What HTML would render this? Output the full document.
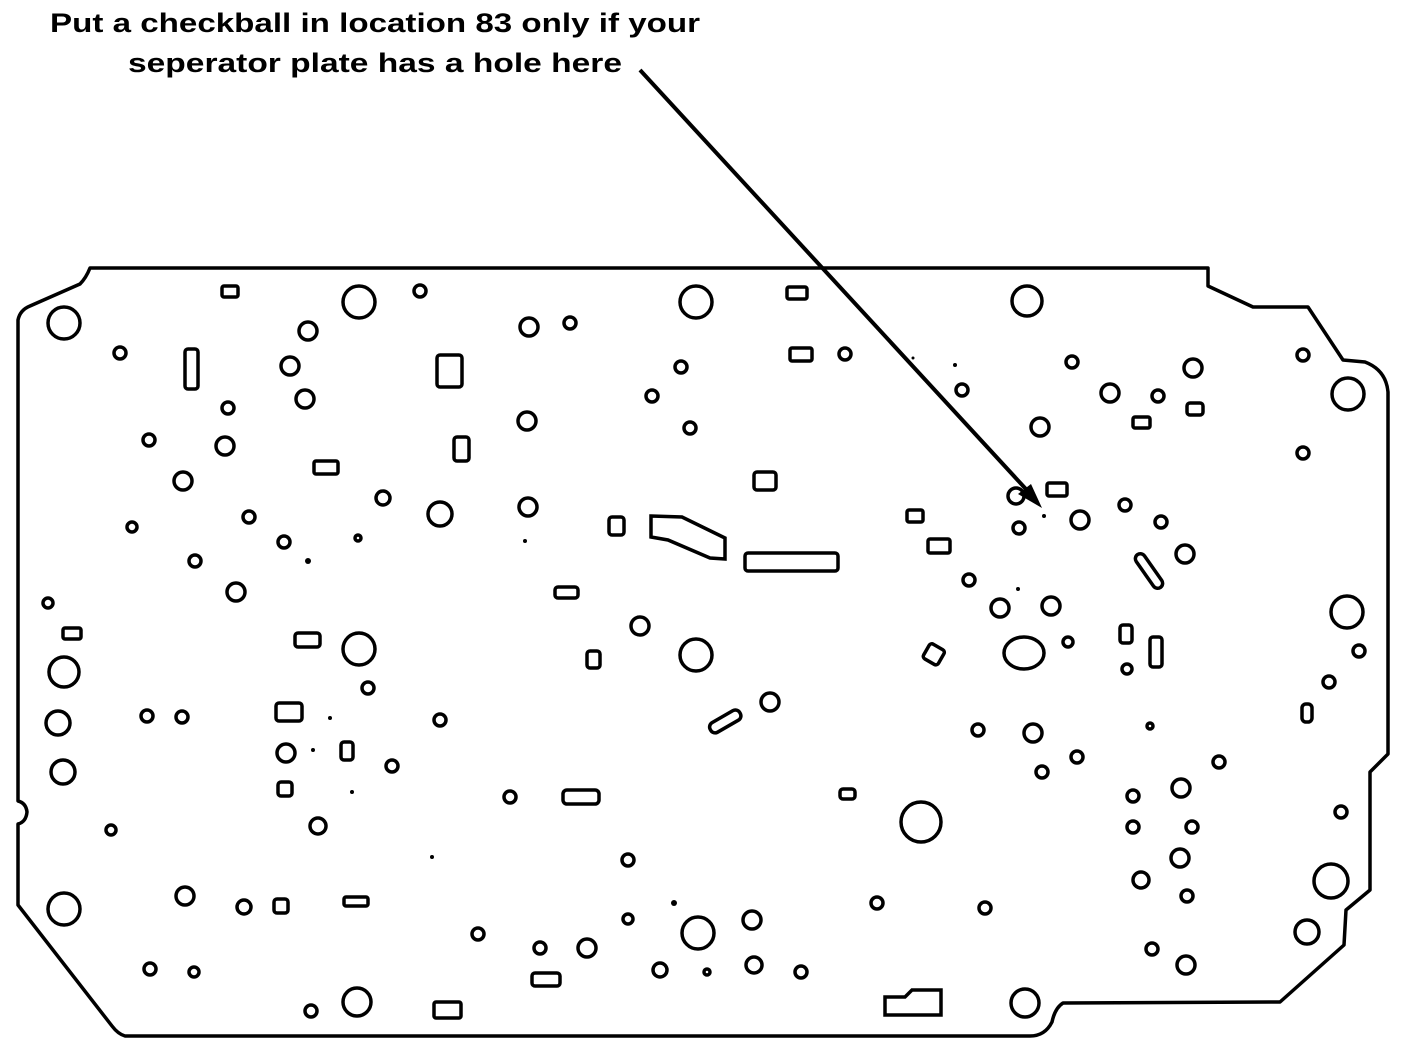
<!DOCTYPE html>
<html><head><meta charset="utf-8"><style>
html,body{margin:0;padding:0;background:#fff;}
svg{display:block;}
text{font-family:"Liberation Sans",sans-serif;font-weight:bold;font-size:27px;fill:#000;}
</style></head><body>
<svg width="1408" height="1046" viewBox="0 0 1408 1046" xmlns="http://www.w3.org/2000/svg">
<text x="50" y="32" textLength="650" lengthAdjust="spacingAndGlyphs">Put a checkball in location 83 only if your</text>
<text x="128" y="72" textLength="494" lengthAdjust="spacingAndGlyphs">seperator plate has a hole here</text>
<line x1="640" y1="70" x2="1036" y2="500" stroke="#000" stroke-width="4"/>
<polygon points="1042,508 1018,494 1031,484" fill="#000"/>
<g fill="none" stroke="#000" stroke-width="3.5" stroke-linejoin="round">
<path d="M18,320 Q20,310 30,306 L80,284 Q86,278 90,268 L1208,268 L1208,286 L1253,307 L1308,307 L1343,360 L1365,362 Q1386,370 1388,392 L1388,754 L1370,772 L1370,890 L1346,910 L1344,945 L1280,1002 L1063,1003 Q1055,1008 1052,1022 Q1045,1036 1030,1036 L125,1036 Q118,1034 112,1026 L18,905 L18,824 Q26,822 27,812 Q26,803 18,801 Z"/>
<circle cx="64" cy="323" r="16"/><circle cx="359" cy="302" r="16"/><circle cx="696" cy="302" r="16"/><circle cx="1027" cy="301" r="15"/>
<circle cx="1348" cy="394" r="16"/><circle cx="1347" cy="612" r="16"/><circle cx="359" cy="649" r="16"/><circle cx="696" cy="655" r="16"/>
<circle cx="64" cy="672" r="15"/><circle cx="58" cy="723" r="12"/><circle cx="63" cy="772" r="12"/><circle cx="64" cy="909" r="16"/>
<ellipse cx="1024" cy="653" rx="20" ry="16"/><circle cx="921" cy="822" r="20"/><circle cx="698" cy="933" r="16"/>
<circle cx="357" cy="1002" r="14"/><circle cx="1025" cy="1003" r="14"/><circle cx="1331" cy="881" r="17"/><circle cx="1307" cy="932" r="12"/>
</g>
<g fill="none" stroke="#000" stroke-width="3.5">
<circle cx="308" cy="331" r="9"/><circle cx="290" cy="366" r="9"/><circle cx="305" cy="399" r="9"/><circle cx="225" cy="446" r="9"/>
<circle cx="183" cy="481" r="9"/><circle cx="440" cy="514" r="12"/><circle cx="236" cy="592" r="9"/><circle cx="529" cy="327" r="9"/>
<circle cx="527" cy="421" r="9"/><circle cx="528" cy="507" r="9"/><circle cx="640" cy="626" r="9"/><circle cx="770" cy="702" r="9"/>
<circle cx="1040" cy="427" r="9"/><circle cx="1110" cy="393" r="9"/><circle cx="1193" cy="368" r="9"/><circle cx="1080" cy="520" r="9"/>
<circle cx="1185" cy="554" r="9"/><circle cx="1000" cy="608" r="9"/><circle cx="1051" cy="606" r="9"/><circle cx="1033" cy="733" r="9"/>
<circle cx="1181" cy="788" r="9"/><circle cx="1180" cy="858" r="9"/><circle cx="1141" cy="880" r="8"/><circle cx="1186" cy="965" r="9"/>
<circle cx="587" cy="948" r="9"/><circle cx="752" cy="920" r="9"/><circle cx="754" cy="965" r="8"/><circle cx="185" cy="896" r="9"/>
<circle cx="286" cy="753" r="9"/><circle cx="318" cy="826" r="8"/><circle cx="1016" cy="496" r="8"/>
<circle cx="120" cy="353" r="6"/><circle cx="228" cy="408" r="6"/><circle cx="149" cy="440" r="6"/><circle cx="132" cy="527" r="5"/>
<circle cx="249" cy="517" r="6"/><circle cx="284" cy="542" r="6"/><circle cx="195" cy="561" r="6"/><circle cx="383" cy="498" r="7"/>
<circle cx="420" cy="291" r="6"/><circle cx="570" cy="323" r="6"/><circle cx="681" cy="367" r="6"/><circle cx="652" cy="396" r="6"/>
<circle cx="690" cy="428" r="6"/><circle cx="845" cy="354" r="6"/><circle cx="962" cy="390" r="6"/><circle cx="1072" cy="362" r="6"/>
<circle cx="1158" cy="396" r="6"/><circle cx="1125" cy="505" r="6"/><circle cx="1161" cy="522" r="6"/><circle cx="1019" cy="528" r="6"/>
<circle cx="969" cy="580" r="6"/><circle cx="1068" cy="642" r="5"/><circle cx="1127" cy="669" r="5"/><circle cx="1303" cy="355" r="6"/>
<circle cx="1303" cy="453" r="6"/><circle cx="1359" cy="651" r="6"/><circle cx="1329" cy="682" r="6"/><circle cx="1341" cy="812" r="6"/>
<circle cx="48" cy="603" r="5"/><circle cx="147" cy="716" r="6"/><circle cx="182" cy="717" r="6"/><circle cx="368" cy="688" r="6"/>
<circle cx="440" cy="720" r="6"/><circle cx="392" cy="766" r="6"/><circle cx="510" cy="797" r="6"/><circle cx="111" cy="830" r="5"/>
<circle cx="244" cy="907" r="7"/><circle cx="978" cy="730" r="6"/><circle cx="1042" cy="772" r="6"/><circle cx="1077" cy="757" r="6"/>
<circle cx="1219" cy="762" r="6"/><circle cx="1133" cy="796" r="6"/><circle cx="1133" cy="827" r="6"/><circle cx="1192" cy="827" r="6"/>
<circle cx="1187" cy="896" r="6"/><circle cx="1152" cy="949" r="6"/><circle cx="877" cy="903" r="6"/><circle cx="985" cy="908" r="6"/>
<circle cx="628" cy="860" r="6"/><circle cx="628" cy="919" r="5"/><circle cx="540" cy="948" r="6"/><circle cx="660" cy="970" r="7"/>
<circle cx="801" cy="972" r="6"/><circle cx="478" cy="934" r="6"/><circle cx="311" cy="1011" r="6"/><circle cx="150" cy="969" r="6"/>
<circle cx="194" cy="972" r="5"/><circle cx="358" cy="538" r="3"/><circle cx="1150" cy="726" r="3"/><circle cx="707" cy="972" r="3"/>
</g>
<g fill="#000">
<circle cx="308" cy="561" r="3"/><circle cx="525" cy="541" r="2"/><circle cx="330" cy="718" r="2"/><circle cx="313" cy="750" r="2"/>
<circle cx="352" cy="792" r="2"/><circle cx="432" cy="857" r="2"/><circle cx="674" cy="903" r="3"/><circle cx="1044" cy="516" r="2"/>
<circle cx="1018" cy="589" r="2"/><circle cx="955" cy="365" r="2"/><circle cx="913" cy="358" r="1.5"/>
</g>
<g fill="none" stroke="#000" stroke-width="3.5">
<rect x="222" y="286" width="16" height="11" rx="2"/><rect x="787" y="287" width="20" height="12" rx="2"/>
<rect x="185" y="349" width="13" height="40" rx="3"/><rect x="437" y="355" width="25" height="32" rx="3"/>
<rect x="790" y="348" width="22" height="13" rx="2"/><rect x="454" y="437" width="15" height="24" rx="3"/>
<rect x="314" y="461" width="24" height="13" rx="2"/><rect x="754" y="472" width="22" height="18" rx="3"/>
<rect x="1047" y="483" width="20" height="13" rx="2"/><rect x="907" y="510" width="16" height="12" rx="2"/>
<rect x="609" y="517" width="15" height="18" rx="3"/><rect x="928" y="539" width="22" height="14" rx="2"/>
<rect x="745" y="553" width="93" height="18" rx="3"/><rect x="555" y="587" width="23" height="11" rx="3"/>
<rect x="295" y="633" width="25" height="14" rx="3"/><rect x="1120" y="625" width="12" height="18" rx="3"/>
<rect x="1150" y="637" width="12" height="30" rx="3"/><rect x="587" y="651" width="13" height="17" rx="3"/>
<rect x="276" y="703" width="26" height="18" rx="3"/><rect x="341" y="742" width="12" height="18" rx="3"/>
<rect x="278" y="782" width="14" height="14" rx="3"/><rect x="563" y="790" width="36" height="14" rx="4"/>
<rect x="840" y="789" width="15" height="10" rx="3"/><rect x="344" y="897" width="24" height="9" rx="2"/>
<rect x="274" y="899" width="14" height="14" rx="3"/><rect x="532" y="973" width="28" height="13" rx="3"/>
<rect x="434" y="1002" width="27" height="16" rx="2"/><rect x="1133" y="417" width="17" height="11" rx="2"/>
<rect x="1187" y="403" width="16" height="12" rx="3"/><rect x="63" y="628" width="18" height="11" rx="2"/>
<rect x="1302" y="704" width="10" height="18" rx="4"/>
<polygon points="885,997 905,997 912,990 941,990 941,1015 885,1015"/>
<polygon points="651,516 682,517 725,538 725,559 710,558 668,540 651,537"/>
<rect x="1144" y="551" width="10" height="40" rx="5" transform="rotate(-35 1149 571)"/>
<rect x="708" y="716" width="34" height="11" rx="5" transform="rotate(-30 725 721)"/>
<rect x="925" y="646" width="17" height="17" rx="3" transform="rotate(30 934 655)"/>
</g>
</svg>
</body></html>
